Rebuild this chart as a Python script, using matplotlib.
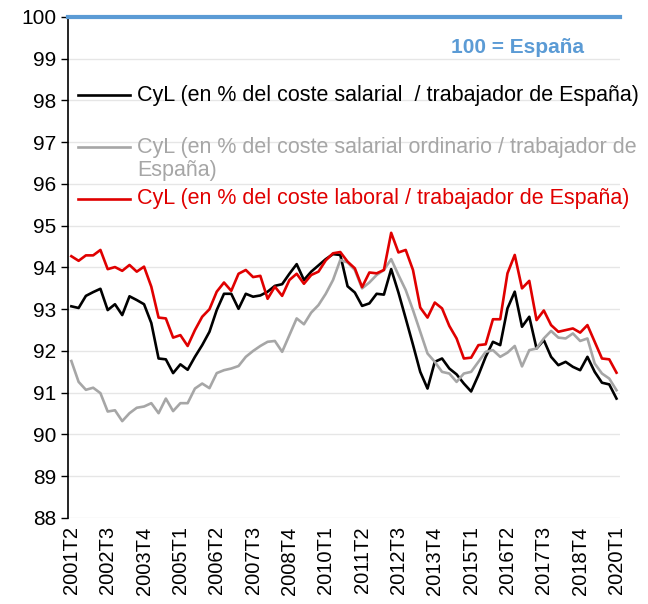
import matplotlib
matplotlib.use("Agg")
import matplotlib.pyplot as plt
from matplotlib.lines import Line2D

plt.rcParams['font.family'] = ['Liberation Sans', 'DejaVu Sans']

# trimestres 2001T2 .. 2020T1
trimestres = [f"{a}T{q}" for a in range(2001, 2021) for q in range(1, 5)][1:77]

coste_salarial = [
    93.07, 93.03, 93.32, 93.41, 93.49, 92.98, 93.12, 92.86, 93.31, 93.22,
    93.12, 92.67, 91.82, 91.80, 91.47, 91.68, 91.55, 91.86, 92.14, 92.46,
    92.98, 93.37, 93.37, 93.01, 93.37, 93.30, 93.33, 93.42, 93.56, 93.60,
    93.85, 94.08, 93.70, 93.90, 94.05, 94.20, 94.32, 94.30, 93.55, 93.40,
    93.08, 93.14, 93.37, 93.35, 93.96, 93.40, 92.78, 92.15, 91.50, 91.10,
    91.74, 91.82, 91.58, 91.44, 91.22, 91.03, 91.42, 91.86, 92.22, 92.14,
    93.02, 93.42, 92.58, 92.82, 92.06, 92.26, 91.86, 91.66, 91.74, 91.62,
    91.54, 91.86, 91.50, 91.24, 91.20, 90.86,
]

coste_ordinario = [
    91.76, 91.26, 91.07, 91.12, 90.99, 90.55, 90.58, 90.32, 90.51, 90.64,
    90.67, 90.75, 90.51, 90.86, 90.56, 90.75, 90.75, 91.10, 91.22, 91.11,
    91.47, 91.54, 91.58, 91.64, 91.86, 92.00, 92.12, 92.22, 92.24, 91.98,
    92.38, 92.78, 92.64, 92.92, 93.10, 93.37, 93.70, 94.18, 94.12, 93.94,
    93.50, 93.64, 93.82, 93.94, 94.20, 93.82, 93.46, 92.98, 92.46, 91.94,
    91.74, 91.50, 91.46, 91.26, 91.46, 91.50, 91.74, 91.98, 92.02, 91.86,
    91.96, 92.12, 91.63, 92.02, 92.06, 92.30, 92.48, 92.32, 92.30, 92.42,
    92.24, 92.30, 91.70, 91.46, 91.34, 91.06,
]

coste_laboral = [
    94.27, 94.16, 94.29, 94.29, 94.42, 93.96, 94.01, 93.92, 94.06, 93.90,
    94.02, 93.54, 92.80, 92.78, 92.32, 92.38, 92.12, 92.50, 92.82, 93.00,
    93.42, 93.64, 93.44, 93.85, 93.94, 93.77, 93.80, 93.25, 93.54, 93.32,
    93.70, 93.85, 93.61, 93.82, 93.90, 94.17, 94.34, 94.37, 94.14, 93.98,
    93.53, 93.88, 93.86, 93.94, 94.83, 94.36, 94.42, 93.94, 93.04, 92.80,
    93.16, 93.02, 92.60, 92.30, 91.82, 91.84, 92.14, 92.16, 92.76, 92.76,
    93.86, 94.30, 93.50, 93.68, 92.74, 92.97, 92.62, 92.46, 92.50, 92.54,
    92.44, 92.62, 92.22, 91.82, 91.80, 91.48,
]

etiquetas = [
    "CyL (en % del coste salarial  / trabajador de España)",
    "CyL (en % del coste salarial ordinario / trabajador de\nEspaña)",
    "CyL (en % del coste laboral / trabajador de España)",
]
colores = ["#000000", "#a6a6a6", "#e00000"]
AZUL = "#5b9bd5"

fig = plt.figure(figsize=(6.48, 6.04), dpi=100)
ax = fig.add_axes([0.1045, 0.1424, 0.8525, 0.8295])

x = list(range(len(trimestres)))
for serie, color in zip([coste_salarial, coste_ordinario, coste_laboral], colores):
    ax.plot(x, serie, color=color, lw=1.9, zorder=3)

# linea de referencia España = 100
ax.axhline(100, color=AZUL, lw=3, zorder=4, clip_on=False)

ax.set_xlim(-0.5, len(trimestres) - 0.5)
ax.set_ylim(88, 100)
ax.set_yticks(range(88, 101))
ax.tick_params(axis='y', labelsize=15, length=5, width=1, direction='out', pad=3)
ax.set_xticks(x[::5])
ax.set_xticklabels(trimestres[::5], rotation=90, fontsize=14.5)
ax.tick_params(axis='x', length=0, pad=6)
ax.grid(axis='y', color='#e6e6e6', lw=1, zorder=0)

for lado in ['top', 'right', 'bottom']:
    ax.spines[lado].set_visible(False)
ax.spines['left'].set_linewidth(1.2)

# leyenda manual
pos_y = [0.844, 0.741, 0.637]
for etq, color, yy in zip(etiquetas, colores, pos_y):
    ax.add_line(Line2D([0.019, 0.113], [yy, yy], color=color, lw=1.9,
                       transform=ax.transAxes))
    ty = yy - 0.024 if '\n' in etq else yy
    ax.text(0.125, ty, etq, color=color, fontsize=15.5, va='center',
            transform=ax.transAxes, linespacing=1.1)

ax.text(0.8135, 0.94, "100 = España", color=AZUL, fontsize=15, fontweight='bold',
        ha='center', va='center', transform=ax.transAxes)

fig.savefig("out.png", dpi=100)
